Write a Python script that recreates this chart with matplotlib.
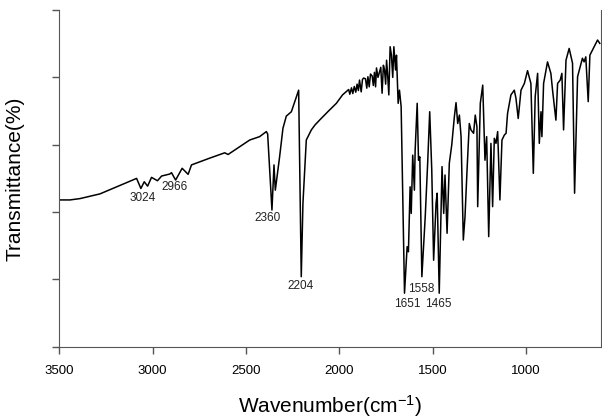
import matplotlib
matplotlib.use("Agg")
import matplotlib.pyplot as plt

plt.rcParams['font.family'] = ['Liberation Sans', 'DejaVu Sans']
plt.rcParams['mathtext.fontset'] = 'custom'
plt.rcParams['mathtext.rm'] = 'Liberation Sans'
plt.rcParams['mathtext.it'] = 'Liberation Sans:italic'

# IR spectrum (wavenumber in cm-1, transmittance in %)
wavenumber = [3500, 3443, 3389, 3282, 3086, 3063, 3045, 3027, 3006, 2974,
              2952, 2908, 2899, 2877, 2842, 2810, 2792, 2700, 2614, 2596,
              2534, 2480, 2427, 2391, 2384, 2361, 2350, 2343, 2320, 2302,
              2284, 2257, 2218, 2204, 2195, 2177, 2150, 2130, 2106, 2060,
              2016, 1983, 1960, 1950, 1944, 1935, 1928, 1920, 1912, 1905,
              1898, 1892, 1883, 1876, 1870, 1860, 1853, 1847, 1840, 1833,
              1824, 1818, 1812, 1806, 1801, 1793, 1785, 1778, 1771, 1764,
              1758, 1752, 1747, 1741, 1735, 1728, 1721, 1714, 1708, 1699,
              1694, 1685, 1678, 1669, 1651, 1637, 1630, 1621, 1615, 1607,
              1598, 1594, 1583, 1576, 1569, 1558, 1540, 1527, 1516, 1505,
              1495, 1482, 1476, 1465, 1450, 1441, 1434, 1423, 1411, 1398,
              1384, 1375, 1366, 1357, 1348, 1336, 1327, 1316, 1304, 1295,
              1281, 1272, 1263, 1259, 1245, 1232, 1220, 1211, 1200, 1188,
              1179, 1170, 1161, 1152, 1140, 1129, 1116, 1107, 1099, 1081,
              1063, 1054, 1042, 1027, 1009, 992, 974, 961, 951, 938,
              929, 920, 915, 906, 885, 867, 858, 840, 831, 817,
              808, 799, 786, 769, 751, 740, 724, 710, 698, 689,
              680, 667, 658, 635, 617, 605]
transmittance = [43.6, 43.6, 44.0, 45.4, 50.0, 47.0, 49.0, 47.7, 50.3, 49.3,
                 50.7, 51.3, 51.7, 49.5, 53.0, 51.2, 54.0, 55.9, 57.6, 57.1,
                 59.4, 61.4, 62.4, 63.9, 63.2, 40.6, 54.0, 46.5, 56.4, 64.9,
                 68.5, 69.8, 76.2, 20.8, 42.6, 61.4, 64.4, 65.9, 67.3, 69.9,
                 72.3, 74.8, 75.9, 76.4, 75.0, 76.9, 75.2, 77.3, 75.6, 78.0,
                 76.1, 79.2, 75.7, 79.4, 79.8, 79.6, 76.8, 80.2, 77.2, 81.0,
                 80.4, 77.6, 81.5, 77.2, 82.8, 80.0, 81.6, 83.0, 75.3, 83.6,
                 82.2, 78.0, 85.1, 80.5, 74.8, 89.1, 86.6, 80.0, 89.1, 82.2,
                 86.6, 72.3, 76.2, 71.3, 15.9, 29.7, 28.2, 47.5, 39.6, 56.9,
                 46.5, 58.4, 72.3, 55.4, 56.4, 20.8, 38.6, 54.5, 69.8, 52.5,
                 25.7, 42.6, 45.6, 15.9, 53.5, 39.6, 51.0, 33.7, 54.5, 59.9,
                 68.3, 72.5, 66.3, 68.8, 62.4, 31.7, 38.6, 52.5, 66.3, 64.4,
                 63.4, 68.8, 65.3, 41.6, 72.3, 77.7, 55.4, 62.4, 32.7, 60.4,
                 41.6, 61.9, 60.4, 63.9, 43.6, 61.4, 62.9, 63.4, 69.3, 74.8,
                 76.2, 73.8, 67.8, 76.2, 78.2, 82.0, 78.2, 51.5, 74.3, 81.2,
                 60.4, 69.8, 62.4, 78.2, 84.6, 81.2, 76.2, 67.3, 78.2, 79.2,
                 81.2, 64.4, 85.1, 88.6, 84.2, 45.6, 80.2, 83.2, 85.7, 84.6,
                 86.1, 72.8, 86.6, 89.1, 91.1, 90.1]

# peak labels and where they sit
peak_labels = ['3024', '2966', '2360', '2204', '1558', '1651', '1465']
label_x = [3056, 2881, 2382, 2206, 1559, 1634, 1468]
label_y = [44.1, 47.5, 38.1, 18.1, 17.0, 12.6, 12.6]

fig = plt.figure(figsize=(6.02, 4.19), dpi=100)
ax = fig.add_axes([0.0985, 0.1725, 0.9, 0.8035])

ax.plot(wavenumber, transmittance, color='black', lw=1.1)

for lab, lx, ly in zip(peak_labels, label_x, label_y):
    ax.text(lx, ly, lab, ha='center', va='center', fontsize=8.5, color='#222222')

ax.set_xlim(3500, 598)
ax.set_ylim(0, 100)
ax.set_xticks([3500, 3000, 2500, 2000, 1500, 1000])
ax.set_yticks([0, 20, 40, 60, 80, 100])
ax.set_yticklabels([])
ax.tick_params(direction='out', length=5, width=1, color='#555555',
               labelsize=9.5, pad=8)

ax.spines['top'].set_visible(False)
for s in ['left', 'bottom', 'right']:
    ax.spines[s].set_color('#555555')

ax.set_ylabel('Transmittance(%)', fontsize=15, labelpad=12)
ax.set_xlabel('Wavenumber(cm$^{-1}$)', fontsize=15, labelpad=12)

fig.savefig('out.png', dpi=100)
